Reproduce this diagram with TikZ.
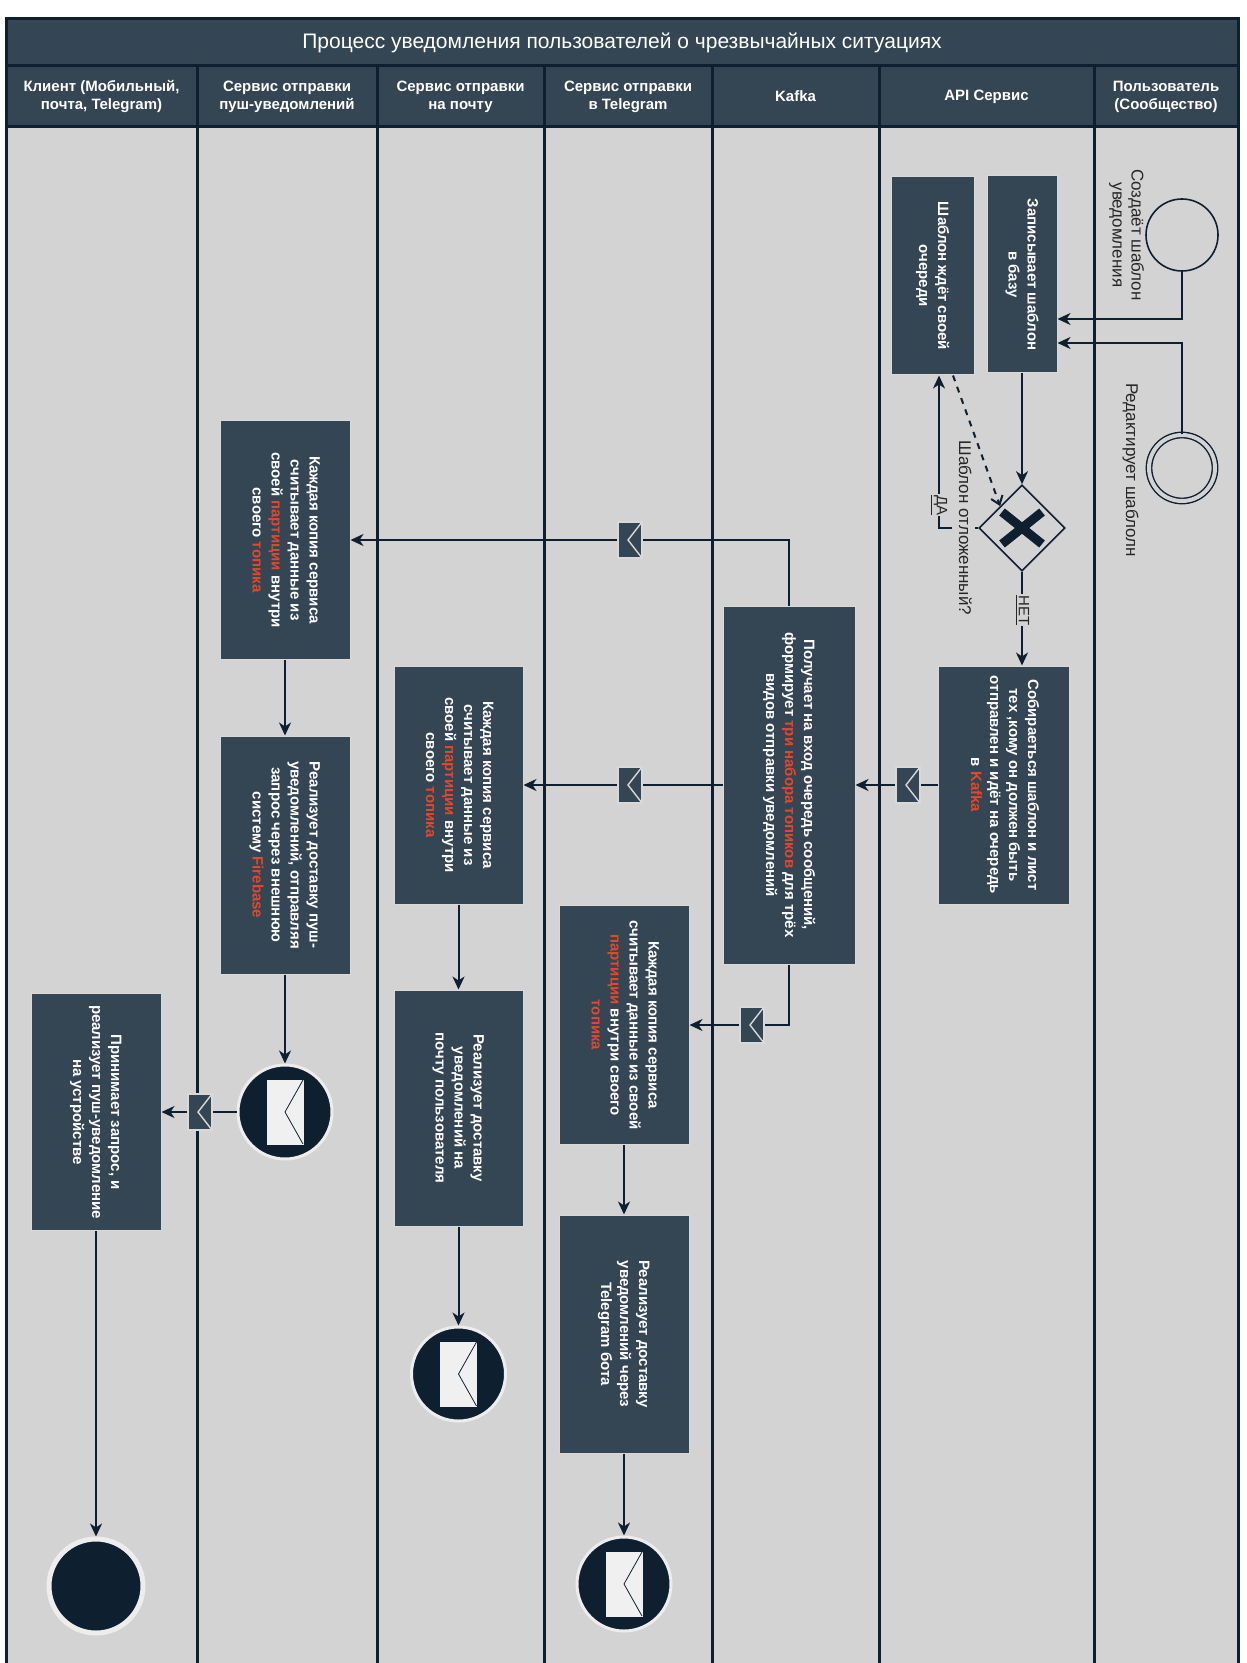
\documentclass[tikz,border=0pt]{standalone}
\usepackage{fontspec}
\setmainfont{Liberation Sans}
\usepackage{graphicx}
\usepackage{xcolor}
\usetikzlibrary{shapes.geometric,arrows.meta}

\definecolor{lanegray}{RGB}{211,211,211}
\definecolor{slate}{RGB}{52,69,84}
\definecolor{navy}{RGB}{14,31,48}
\definecolor{hotred}{RGB}{232,70,40}
\definecolor{paper}{RGB}{240,240,240}

\newcommand{\vt}[1]{\rotatebox{-90}{\begin{tabular}{@{}c@{}}#1\end{tabular}}}
\newcommand{\kw}[1]{{\color{hotred}#1}}
\newcommand{\msgmark}[1]{\draw[white!85!black, line width=0.7pt] ([shift={(6pt,9pt)}]#1.center) -- ([xshift=-1pt]#1.center) -- ([shift={(6pt,-9pt)}]#1.center);}
\newcommand{\envicon}[1]{%
  \draw[fill=paper, draw=paper] ([shift={(-9pt,-16pt)}]#1.center) rectangle ([shift={(9pt,16pt)}]#1.center);
  \draw[navy, line width=0.4pt] ([shift={(9pt,16pt)}]#1.center) -- (#1.center) -- ([shift={(9pt,-16pt)}]#1.center);}

\begin{document}
\begin{tikzpicture}[x=0.5pt, y=-0.5pt,
  task/.style={draw=white!85!black, line width=0.5pt, fill=slate, text=white, font=\bfseries\fontsize{7.5}{9.5}\selectfont, inner sep=0pt},
  hdr/.style={draw=navy, line width=1.5pt, fill=slate, text=white, font=\bfseries\fontsize{7.5}{9}\selectfont, align=center, inner sep=0pt, minimum height=30.5pt},
  lbl/.style={text=black!85, font=\fontsize{8.5}{9.5}\selectfont, inner sep=1pt},
  flow/.style={draw=navy, line width=1pt, -{Stealth[length=6.5pt,width=6pt,inset=2pt]}},
  wire/.style={draw=navy, line width=1pt},
  msg/.style={draw=white!85!black, line width=1pt, fill=slate, minimum width=12pt, minimum height=18pt, inner sep=0pt},
  endmsg/.style={circle, fill=navy, draw=white!93!black, line width=1.5pt, minimum size=47pt, inner sep=0pt},
  startev/.style={circle, draw=navy, line width=0.8pt, minimum size=36pt, inner sep=0pt},
  gate/.style={diamond, draw=navy, line width=0.8pt, minimum width=43pt, minimum height=43pt, inner sep=0pt}]

\useasboundingbox (0,0) rectangle (1246,1663);

% lanes
\fill[lanegray] (6,127) rectangle (1238,1663);
\foreach \lx in {6,197,377,544,712,879,1094,1238}
  \draw[navy, line width=1.5pt] (\lx,127) -- (\lx,1663);

\node[hdr, minimum width=616pt, minimum height=23.5pt, font=\fontsize{10.5}{12}\selectfont] (title) at (622,42.5) {Процесс уведомления пользователей о чрезвычайных ситуациях};

\node[hdr, minimum width=95.5pt] (hClient) at (101.5,96.5) {Клиент (Мобильный,\\почта, Telegram)};
\node[hdr, minimum width=90pt] (hPush) at (287,96.5) {Сервис отправки\\пуш-уведомлений};
\node[hdr, minimum width=83.5pt] (hMail) at (460.5,96.5) {Сервис отправки\\на почту};
\node[hdr, minimum width=84pt] (hTg) at (628,96.5) {Сервис отправки\\в Telegram};
\node[hdr, minimum width=83.5pt] (hKafka) at (795.5,96.5) {Kafka};
\node[hdr, minimum width=107.5pt] (hApi) at (986.5,96.5) {API Сервис};
\node[hdr, minimum width=72pt] (hUser) at (1166,96.5) {Пользователь\\(Сообщество)};

% user lane
\node[startev] (S) at (1182,235) {};
\node[startev, draw=navy, double=lanegray, double distance=2pt, line width=0.7pt, minimum size=33pt] (D) at (1182,468) {};
\node[lbl] (lS) at (1126,235) {\vt{Создаёт шаблон\\уведомления}};
\node[lbl] (lD) at (1130,470) {\vt{Редактирует шаблолн}};

% api lane
\node[task, minimum width=35pt, minimum height=98.5pt] (W1) at (1022,274.5) {\vt{Записывает шаблон\\в базу}};
\node[task, minimum width=41.5pt, minimum height=99pt] (W2) at (932.5,276) {\vt{Шаблон ждёт своей\\очереди}};
\node[gate] (G) at (1022,528) {};
\draw[navy, line width=4.5pt] ([shift={(-10pt,-8pt)}]G.center) -- ([shift={(10pt,8pt)}]G.center);
\draw[navy, line width=4.5pt] ([shift={(-10pt,8pt)}]G.center) -- ([shift={(10pt,-8pt)}]G.center);
\node[task, minimum width=65.5pt, minimum height=119pt] (C) at (1003.5,785) {\vt{Собираеться шаблон и лист\\тех ,кому он должен быть\\отправлен и идёт на очередь\\в \kw{Kafka}}};

% kafka lane
\node[task, minimum width=66pt, minimum height=179pt] (K) at (789,785) {\vt{Получает на вход очередь сообщений,\\формирует \kw{три набора топиков} для трёх\\видов отправки уведомлений}};

% telegram lane
\node[task, minimum width=65pt, minimum height=119.5pt] (T1) at (624,1025) {\vt{Каждая копия сервиса\\считывает данные из своей\\\kw{партиции} внутри своего\\\kw{топика}}};
\node[task, minimum width=65pt, minimum height=119pt] (T2) at (624,1334) {\vt{Реализует доставку\\уведомлений через\\Telegram бота}};
\node[endmsg] (TE) at (624,1584) {};

% mail lane
\node[task, minimum width=64.5pt, minimum height=119pt] (E1) at (458.5,785) {\vt{Каждая копия сервиса\\считывает данные из\\своей \kw{партиции} внутри\\своего \kw{топика}}};
\node[task, minimum width=64.5pt, minimum height=118pt] (E2) at (458.5,1108) {\vt{Реализует доставку\\уведомлений на\\почту пользователя}};
\node[endmsg] (EE) at (458.5,1374) {};

% push lane
\node[task, minimum width=65pt, minimum height=119pt] (P1) at (285,540) {\vt{Каждая копия сервиса\\считывает данные из\\своей \kw{партиции} внутри\\своего \kw{топика}}};
\node[task, minimum width=65pt, minimum height=119pt] (P2) at (285,855) {\vt{Реализует доставку пуш-\\уведомлений, отправляя\\запрос через внешнюю\\систему \kw{Firebase}}};
\node[endmsg] (PE) at (285,1112) {};

% client lane
\node[task, minimum width=65pt, minimum height=118.5pt] (CL) at (96,1112) {\vt{Принимает запрос, и\\реализует пуш-уведомление\\на устройстве}};
\node[endmsg, line width=2.5pt] (CE) at (96,1586) {};

% message markers
\node[msg] (M1) at (908,785) {};
\node[msg] (M2) at (630,540) {};
\node[msg] (M3) at (630,785) {};
\node[msg] (M5) at (752,1025) {};
\node[msg] (M4) at (200,1112) {};
\msgmark{M1} \msgmark{M2} \msgmark{M3} \msgmark{M5} \msgmark{M4}
\envicon{TE} \envicon{EE} \envicon{PE}

% flows
\draw[flow] (S.south) |- ([yshift=-22.25pt]W1.east);
\draw[flow] (D.north) |- ([yshift=-34.25pt]W1.east);
\draw[flow] (W1.south) -- (G.north);
\draw[flow, dashed, -{Straight Barb[length=4pt,width=6pt]}] ([xshift=10.25pt]W2.south) -- (G.north west);
\draw[flow] (G.west) -| node[pos=0.575, fill=lanegray, inner sep=0.5pt, text=black!85, font=\fontsize{7.5}{8}\selectfont] {\vt{\underline{ДА}}} ([xshift=3.25pt]W2.south);
\draw[flow] (G.south) -- node[pos=0.41, fill=lanegray, inner sep=0.5pt, text=black!85, font=\fontsize{7.5}{8}\selectfont] {\vt{\underline{НЕТ}}} (G.south |- C.north);
\node[lbl, fill=lanegray] (Gq) at (963,528) {\vt{Шаблон отложенный?}};

\draw[wire] (C.west) -- (M1.east);
\draw[flow] (M1.west) -- (K.east);
\draw[wire] (K.north) |- (M2.east);
\draw[flow] (M2.west) -- (P1.east);
\draw[wire] (K.west) -- (M3.east);
\draw[flow] (M3.west) -- (E1.east);
\draw[wire] (K.south) |- (M5.east);
\draw[flow] (M5.west) -- (T1.east);

\draw[flow] (P1.south) -- (P2.north);
\draw[flow] (P2.south) -- (PE.north);
\draw[wire] (PE.west) -- (M4.east);
\draw[flow] (M4.west) -- (CL.east);
\draw[flow] (E1.south) -- (E2.north);
\draw[flow] (E2.south) -- (EE.north);
\draw[flow] (T1.south) -- (T2.north);
\draw[flow] (T2.south) -- (TE.north);
\draw[flow] (CL.south) -- (CE.north);

\end{tikzpicture}
\end{document}
